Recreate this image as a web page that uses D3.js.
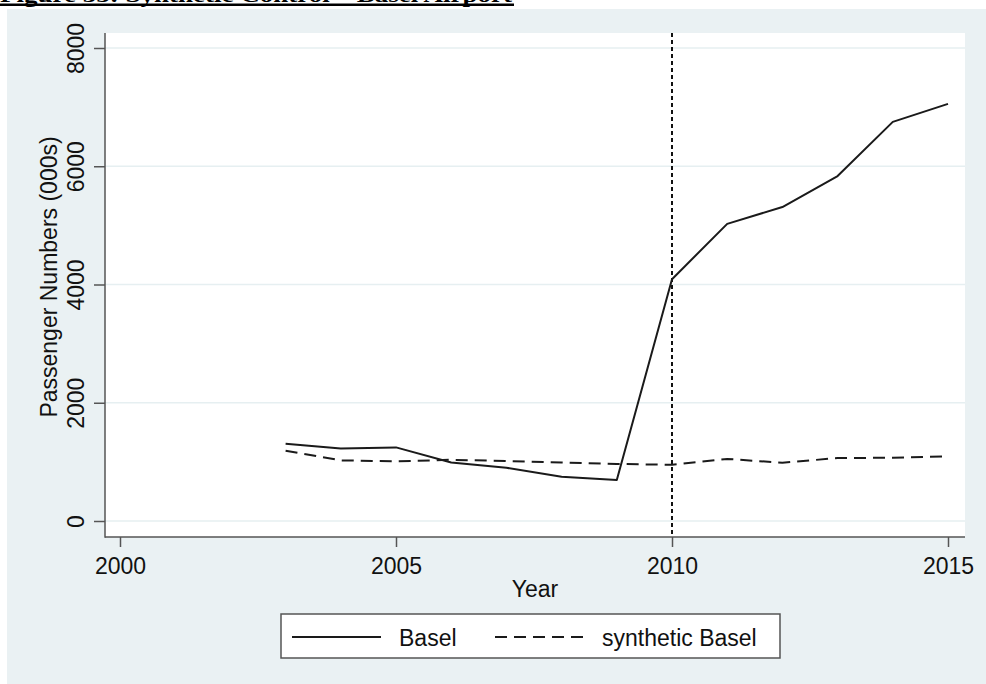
<!DOCTYPE html>
<html>
<head>
<meta charset="utf-8">
<script src="https://cdn.jsdelivr.net/npm/d3@7/dist/d3.min.js"></script>
<style>
  html, body { margin: 0; padding: 0; background: #ffffff; }
  svg { display: block; }
  text { font-family: "Liberation Sans", Arial, sans-serif; fill: #111; }
</style>
</head>
<body>
<svg id="chart" width="986" height="684"></svg>
<script>
const titleText = "Figure 35: Synthetic Control \u2013 Basel Airport";
const years = [2003, 2004, 2005, 2006, 2007, 2008, 2009, 2010, 2011, 2012, 2013, 2014, 2015];
const basel = [1305, 1225, 1245, 990, 900, 750, 695, 4090, 5025, 5310, 5835, 6750, 7055];
const syntheticBasel = [1190, 1025, 1010, 1035, 1015, 990, 965, 950, 1050, 985, 1065, 1070, 1095];
const xTicks = [2000, 2005, 2010, 2015];
const yTicks = [0, 2000, 4000, 6000, 8000];
const treatmentYear = 2010;
const seriesNames = ["Basel", "synthetic Basel"];
const xTitle = "Year";
const yTitle = "Passenger Numbers (000s)";

const svg = d3.select("#chart");
const W = 986, H = 684;

// title (cropped at top of image, as in the reference)
svg.append("text")
  .attr("x", 0).attr("y", 1.5)
  .attr("textLength", 512)
  .attr("lengthAdjust", "spacingAndGlyphs")
  .style("font-family", "'Liberation Serif', 'Times New Roman', serif")
  .style("font-weight", "bold")
  .style("font-size", "21px")
  .style("fill", "#000")
  .text(titleText);
svg.append("rect").attr("x", 0).attr("y", 3.5).attr("width", 514).attr("height", 2.5).attr("fill", "#000");

// graph region
svg.append("rect").attr("x", 7).attr("y", 9).attr("width", W - 7).attr("height", H - 9).attr("fill", "#eaf1f3");

const plot = { left: 105, right: 965, top: 33, bottom: 537 };
svg.append("rect")
  .attr("x", plot.left).attr("y", plot.top)
  .attr("width", plot.right - plot.left).attr("height", plot.bottom - plot.top)
  .attr("fill", "#ffffff");

const x = d3.scaleLinear().domain([2000, 2015]).range([120, 948]);
const y = d3.scaleLinear().domain([0, 8000]).range([521, 48]);

// gridlines
svg.append("g").selectAll("line").data(yTicks).join("line")
  .attr("x1", plot.left).attr("x2", plot.right)
  .attr("y1", d => y(d)).attr("y2", d => y(d))
  .attr("stroke", "#e6eff1").attr("stroke-width", 1.5);

// y axis
const yAxis = svg.append("g").attr("transform", `translate(${plot.left},0)`)
  .call(d3.axisLeft(y).tickValues(yTicks).tickSize(11).tickFormat(d3.format("d")));
yAxis.select(".domain").remove();
yAxis.selectAll(".tick line").attr("stroke", "#555").attr("stroke-width", 1.5);
yAxis.selectAll(".tick text")
  .attr("x", null).attr("dy", null)
  .attr("transform", "translate(-21,0) rotate(-90)")
  .attr("text-anchor", "middle")
  .style("font-size", "23px").style("font-family", "'Liberation Sans', Arial, sans-serif").style("fill", "#111");

// x axis
const xAxis = svg.append("g").attr("transform", `translate(0,${plot.bottom})`)
  .call(d3.axisBottom(x).tickValues(xTicks).tickSize(10).tickFormat(d3.format("d")));
xAxis.select(".domain").remove();
xAxis.selectAll(".tick line").attr("stroke", "#555").attr("stroke-width", 1.5);
xAxis.selectAll(".tick text")
  .attr("y", 37).attr("dy", null)
  .style("font-size", "23px").style("font-family", "'Liberation Sans', Arial, sans-serif").style("fill", "#111");

// axis lines
svg.append("line").attr("x1", plot.left).attr("x2", plot.left).attr("y1", plot.top).attr("y2", plot.bottom + 0.75)
  .attr("stroke", "#555").attr("stroke-width", 1.5);
svg.append("line").attr("x1", plot.left).attr("x2", plot.right).attr("y1", plot.bottom).attr("y2", plot.bottom)
  .attr("stroke", "#555").attr("stroke-width", 1.5);

// treatment line
svg.append("line")
  .attr("x1", x(treatmentYear)).attr("x2", x(treatmentYear))
  .attr("y1", plot.top).attr("y2", plot.bottom)
  .attr("stroke", "#111").attr("stroke-width", 2).attr("stroke-dasharray", "4,3");

// series
const line = d3.line().x((d, i) => x(years[i])).y(d => y(d));
svg.append("path").datum(basel).attr("d", line)
  .attr("fill", "none").attr("stroke", "#1a1a1a").attr("stroke-width", 2).attr("stroke-linejoin", "round");
svg.append("path").datum(syntheticBasel).attr("d", line)
  .attr("fill", "none").attr("stroke", "#1a1a1a").attr("stroke-width", 2).attr("stroke-dasharray", "12,7");

// axis titles
svg.append("text").attr("x", 535).attr("y", 597).attr("text-anchor", "middle")
  .style("font-size", "23px").text(xTitle);
svg.append("text").attr("transform", "translate(57,277) rotate(-90)").attr("text-anchor", "middle")
  .style("font-size", "23px").text(yTitle);

// legend
const lg = svg.append("g");
lg.append("rect").attr("x", 281).attr("y", 614).attr("width", 499).attr("height", 44)
  .attr("fill", "#fff").attr("stroke", "#555").attr("stroke-width", 1.5);
lg.append("line").attr("x1", 292).attr("x2", 381).attr("y1", 637).attr("y2", 637)
  .attr("stroke", "#1a1a1a").attr("stroke-width", 2);
lg.append("text").attr("x", 399).attr("y", 646).style("font-size", "23px").text(seriesNames[0]);
lg.append("line").attr("x1", 495).attr("x2", 586).attr("y1", 637).attr("y2", 637)
  .attr("stroke", "#1a1a1a").attr("stroke-width", 2).attr("stroke-dasharray", "12,7");
lg.append("text").attr("x", 602).attr("y", 646).style("font-size", "23px").text(seriesNames[1]);
</script>
</body>
</html>
